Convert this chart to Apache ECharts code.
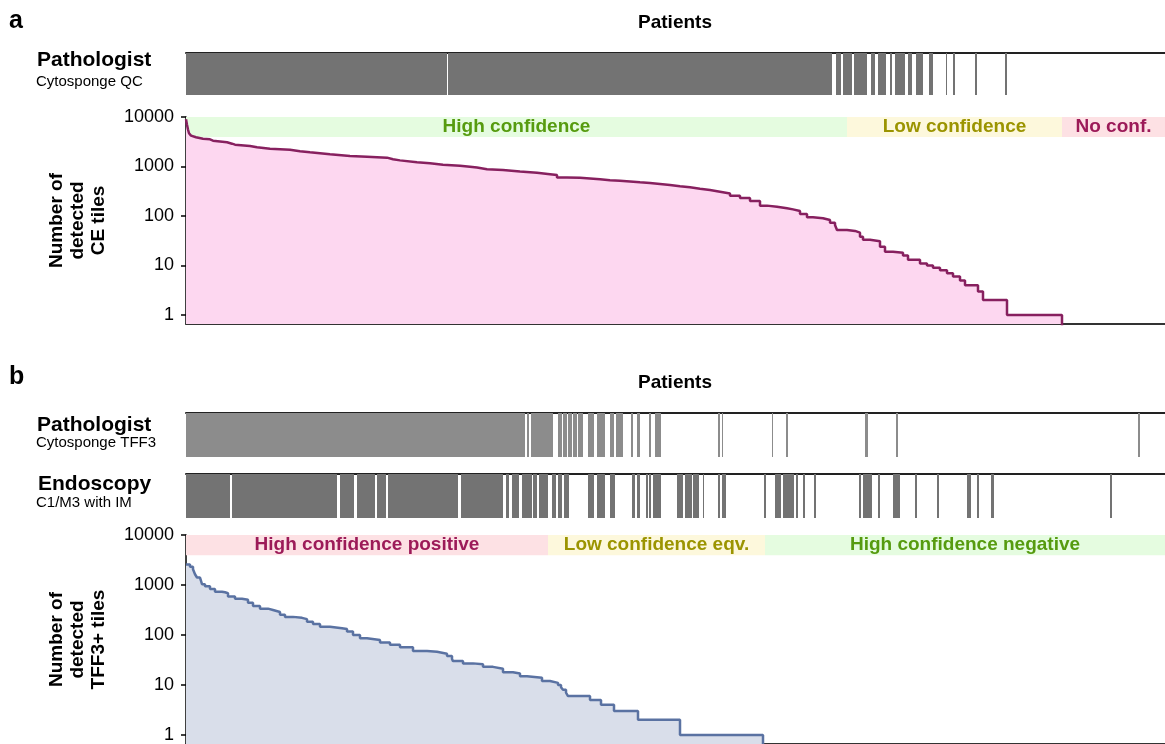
<!DOCTYPE html>
<html>
<head>
<meta charset="utf-8">
<script src="https://cdn.jsdelivr.net/npm/echarts@6/dist/echarts.min.js"></script>
<style>
  html, body { margin: 0; padding: 0; background: #fff; }
  #chart { width: 1165px; height: 744px; }
</style>
</head>
<body>
<div id="chart"></div>
<script>
// x unit = patient rank (sorted by number of detected tiles)
const nPatients = 979
const yTicks = [1, 10, 100, 1000, 10000]
const ZERO = 0.5 // patients with no tiles, drawn under the axis floor

// panel a: CE tiles per patient (step starts)
const ceIdx = [0, 1, 2, 3, 5, 7, 10, 17, 24, 27, 41, 46, 49, 64, 71, 84, 104, 114, 124, 144, 164, 181, 201, 207, 214, 231, 244, 257, 274, 284, 291, 301, 317, 334, 351, 364, 371, 381, 394, 404, 414, 424, 434, 444, 454, 464, 474, 484, 494, 504, 514, 524, 534, 544, 554, 564, 574, 581, 591, 601, 607, 614, 621, 627, 637, 644, 649, 651, 661, 669, 674, 677, 684, 694, 699, 707, 717, 722, 734, 741, 747, 754, 761, 767, 774, 779, 792, 797, 821, 876]
const ceTiles = [9000, 7000, 5600, 4700, 4200, 3900, 3650, 3540, 3330, 3080, 2890, 2760, 2600, 2440, 2290, 2190, 2030, 1930, 1760, 1630, 1580, 1510, 1400, 1330, 1220, 1160, 1090, 1040, 990, 950, 880, 850, 790, 750, 700, 670, 600, 590, 570, 550, 530, 515, 500, 480, 465, 445, 425, 400, 380, 355, 335, 310, 285, 258, 230, 200, 162, 154, 143, 136, 126, 110, 94, 90, 83, 73, 66, 52, 50, 46, 38, 33, 31, 24, 19, 18, 16, 13, 11, 10, 9, 8, 7, 6, 5, 4, 3, 2, 1, ZERO]

// panel b: TFF3+ tiles per patient (step starts)
const tffIdx = [0, 4, 7, 9, 11, 14, 16, 19, 24, 29, 36, 39, 42, 49, 56, 62, 67, 74, 82, 87, 94, 99, 107, 116, 121, 127, 134, 144, 156, 161, 167, 174, 181, 194, 204, 214, 227, 241, 251, 261, 266, 267, 277, 287, 297, 307, 317, 327, 334, 341, 356, 364, 372, 375, 377, 380, 382, 404, 415, 428, 452, 494, 577]
const tffTiles = [2580, 2320, 2055, 1640, 1410, 1370, 1040, 940, 830, 735, 715, 685, 590, 530, 505, 440, 380, 336, 316, 289, 255, 230, 220, 207, 184, 165, 146, 136, 131, 117, 100, 86, 79, 71, 64, 57, 48, 46, 42, 38, 33, 30, 27, 26, 23, 21, 18, 17, 15, 14, 12, 11, 10, 9, 8, 7, 6, 5, 4, 3, 2, 1, ZERO]

// strips: [first, end) patient ranges flagged positive
const qcRuns = [[0, 261], [262, 646], [650, 655], [657, 666], [668, 681], [685, 689], [692, 700], [704, 706], [709, 719], [722, 726], [730, 737], [743, 747], [760, 761], [767, 769], [789, 791], [819, 821]]
const tff3Runs = [[0, 339], [341, 343], [345, 367], [372, 376], [377, 381], [382, 386], [387, 391], [392, 397], [402, 408], [411, 419], [424, 428], [430, 437], [445, 447], [451, 454], [463, 465], [469, 475], [532, 534], [536, 537], [586, 587], [600, 602], [679, 682], [710, 712], [952, 954]]
const endoRuns = [[0, 44], [46, 151], [154, 168], [171, 189], [191, 200], [202, 272], [275, 317], [320, 323], [326, 333], [336, 346], [347, 351], [353, 362], [366, 370], [372, 376], [378, 383], [402, 408], [411, 419], [424, 429], [446, 449], [451, 454], [460, 462], [463, 465], [467, 475], [491, 497], [499, 506], [507, 513], [517, 518], [532, 534], [536, 540], [578, 580], [589, 595], [597, 608], [610, 612], [617, 619], [628, 630], [673, 675], [677, 686], [692, 694], [707, 714], [729, 731], [751, 753], [781, 785], [791, 793], [805, 808], [924, 926]]

// confidence bands: [from, to, label]
const bandFloor = 3945
const bandsA = [[0, 661, 'High confidence'], [661, 876, 'Low confidence'], [876, 979, 'No conf.']]
const bandsB = [[0, 362, 'High confidence positive'], [362, 579, 'Low confidence eqv.'], [579, 979, 'High confidence negative']]

const bandFill = { high: '#e5fce0', low: '#fdf8dc', none: '#fde1e4' }
const bandText = { high: '#569b0f', low: '#9b9400', none: '#9c1a58' }
const FONT = 'Liberation Sans'

const chart = echarts.init(document.getElementById('chart'))

function stripItem(params, api) {
  const p0 = api.coord([api.value(0), 1])
  const p1 = api.coord([api.value(1), 0])
  return {
    type: 'rect',
    shape: { x: p0[0], y: p0[1], width: Math.max(p1[0] - p0[0], 1), height: p1[1] - p0[1] },
    style: { fill: api.visual('color') }
  }
}

function bandData(bands, kinds) {
  return bands.map((b, i) => [
    {
      xAxis: b[0], yAxis: bandFloor, name: b[2],
      itemStyle: { color: bandFill[kinds[i]] },
      label: { color: bandText[kinds[i]] }
    },
    { xAxis: b[1], yAxis: 10000 }
  ])
}

const grids = [
  { left: 186, top: 53, width: 979, height: 42 },
  { left: 186, top: 117, width: 979, height: 207 },
  { left: 186, top: 413, width: 979, height: 44 },
  { left: 186, top: 474, width: 979, height: 44 },
  { left: 186, top: 535, width: 979, height: 212 }
]

function stripX(i) {
  return {
    type: 'value', gridIndex: i, min: 0, max: nPatients, position: 'top',
    axisLine: { show: true, onZero: false, lineStyle: { color: '#222', width: 2 } },
    axisTick: { show: false }, axisLabel: { show: false }, splitLine: { show: false }
  }
}
function mainX(i) {
  return {
    type: 'value', gridIndex: i, min: 0, max: nPatients,
    axisLine: { show: true, onZero: false, lineStyle: { color: '#333', width: 2 } },
    axisTick: { show: false }, axisLabel: { show: false }, splitLine: { show: false }
  }
}
function stripY(i) {
  return { type: 'value', gridIndex: i, min: 0, max: 1, show: false }
}
function mainY(i, name) {
  return {
    type: 'log', logBase: 10, gridIndex: i, min: 0.658, max: 10000,
    axisLine: { show: true, lineStyle: { color: '#000', width: 1.5 } },
    axisTick: { show: true, length: 5, customValues: yTicks, lineStyle: { color: '#000', width: 1.5 } },
    axisLabel: {
      customValues: yTicks, fontSize: 18, color: '#000', margin: 12, fontFamily: FONT,
      formatter: (v) => String(Math.round(v))
    },
    splitLine: { show: false },
    name: name, nameLocation: 'middle', nameRotate: 90, nameGap: 77,
    nameTextStyle: { fontSize: 19, fontWeight: 'bold', color: '#000', lineHeight: 21, align: 'center', fontFamily: FONT }
  }
}

function txt(x, y, s, size, bold, align) {
  return {
    type: 'text', x: x, y: y,
    style: {
      text: s, fill: '#000', align: align || 'left', verticalAlign: 'middle',
      font: (bold ? 'bold ' : '') + size + 'px "' + FONT + '"'
    }
  }
}

const bandLabel = { show: true, position: 'inside', fontSize: 19, fontWeight: 'bold', fontFamily: FONT }

const option = {
  animation: false,
  grid: grids,
  xAxis: [stripX(0), mainX(1), stripX(2), stripX(3), mainX(4)],
  yAxis: [stripY(0), mainY(1, 'Number of\ndetected\nCE tiles'), stripY(2), stripY(3), mainY(4, 'Number of\ndetected\nTFF3+ tiles')],
  graphic: [
    txt(9, 21, 'a', 25, true),
    txt(675, 23, 'Patients', 19, true, 'center'),
    txt(37, 60, 'Pathologist', 21, true),
    txt(36, 82, 'Cytosponge QC', 15, false),
    txt(9, 377, 'b', 25, true),
    txt(675, 383, 'Patients', 19, true, 'center'),
    txt(37, 425, 'Pathologist', 21, true),
    txt(36, 443, 'Cytosponge TFF3', 15, false),
    txt(38, 484, 'Endoscopy', 21, true),
    txt(36, 503, 'C1/M3 with IM', 15, false)
  ],
  series: [
    {
      type: 'custom', xAxisIndex: 0, yAxisIndex: 0, renderItem: stripItem,
      itemStyle: { color: '#737373' }, data: qcRuns
    },
    {
      type: 'line', xAxisIndex: 1, yAxisIndex: 1, data: [], z: 1,
      markArea: { silent: true, label: bandLabel, data: bandData(bandsA, ['high', 'low', 'none']) }
    },
    {
      type: 'line', xAxisIndex: 1, yAxisIndex: 1, z: 3, step: 'end', symbol: 'none',
      data: ceIdx.map((x, i) => [x, ceTiles[i]]),
      lineStyle: { color: '#87205f', width: 2.5 },
      areaStyle: { color: '#fdd7f0', opacity: 1, origin: 'start' }
    },
    {
      type: 'custom', xAxisIndex: 2, yAxisIndex: 2, renderItem: stripItem,
      itemStyle: { color: '#8c8c8c' }, data: tff3Runs
    },
    {
      type: 'custom', xAxisIndex: 3, yAxisIndex: 3, renderItem: stripItem,
      itemStyle: { color: '#737373' }, data: endoRuns
    },
    {
      type: 'line', xAxisIndex: 4, yAxisIndex: 4, data: [], z: 1,
      markArea: { silent: true, label: bandLabel, data: bandData(bandsB, ['none', 'low', 'high']) }
    },
    {
      type: 'line', xAxisIndex: 4, yAxisIndex: 4, z: 3, step: 'end', symbol: 'none',
      data: tffIdx.map((x, i) => [x, tffTiles[i]]),
      lineStyle: { color: '#5a72a2', width: 2.5 },
      areaStyle: { color: '#d9deea', opacity: 1, origin: 'start' }
    }
  ]
}

chart.setOption(option)
</script>
</body>
</html>
